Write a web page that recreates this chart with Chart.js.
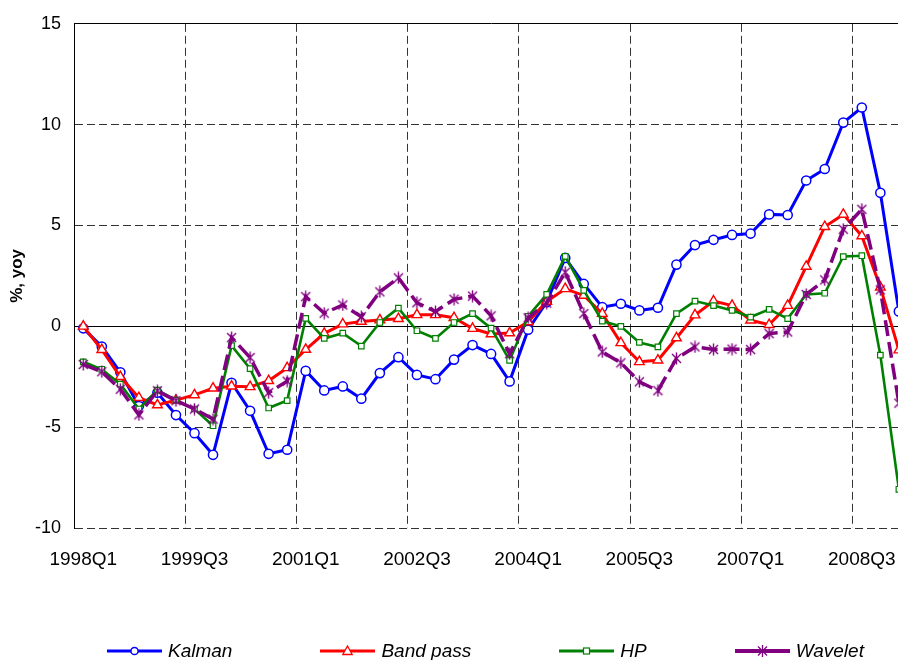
<!DOCTYPE html>
<html>
<head>
<meta charset="utf-8">
<script src="https://cdn.jsdelivr.net/npm/chart.js@4/dist/chart.umd.min.js"></script>
<style>
  html, body { margin:0; padding:0; background:#fff; width:898px; height:660px; overflow:hidden; }
  #wrap { position:absolute; left:0; top:0; width:919px; height:660px; }
  #legend { position:absolute; left:107px; top:640px; display:flex; align-items:center; gap:88px;
            font: italic 19px "Liberation Sans", Arial, sans-serif; line-height:22px; white-space:nowrap; color:#000; }
  .item { display:flex; align-items:center; }
  .item svg { margin-right:6px; display:block; }
</style>
</head>
<body>
<div id="wrap"><canvas id="c" width="919" height="660"></canvas></div>
<div id="legend">
  <div class="item"><svg width="55" height="14"><line x1="0" y1="7" x2="55" y2="7" stroke="#0000ff" stroke-width="3"/><circle cx="27.5" cy="7" r="3.6" fill="#fff" stroke="#0000ff" stroke-width="1.5"/></svg><span>Kalman</span></div>
  <div class="item"><svg width="55" height="14"><line x1="0" y1="7" x2="55" y2="7" stroke="#ff0000" stroke-width="3"/><polygon points="27.5,2 22.8,10.5 32.2,10.5" fill="#fff" stroke="#ff0000" stroke-width="1.3"/></svg><span>Band pass</span></div>
  <div class="item"><svg width="55" height="14"><line x1="0" y1="7" x2="55" y2="7" stroke="#008000" stroke-width="3"/><rect x="24.5" y="4" width="6" height="6" fill="#fff" stroke="#008000" stroke-width="1.2"/></svg><span>HP</span></div>
  <div class="item"><svg width="55" height="14"><line x1="0" y1="7" x2="55" y2="7" stroke="#800080" stroke-width="4"/><g stroke="#800080" stroke-width="1.3"><line x1="23" y1="2.5" x2="32" y2="11.5"/><line x1="32" y1="2.5" x2="23" y2="11.5"/><line x1="27.5" y1="1" x2="27.5" y2="13"/></g></svg><span>Wavelet</span></div>
</div>
<script>
const categories = [
  '1998Q1','1998Q2','1998Q3','1998Q4','1999Q1','1999Q2','1999Q3','1999Q4',
  '2000Q1','2000Q2','2000Q3','2000Q4','2001Q1','2001Q2','2001Q3','2001Q4',
  '2002Q1','2002Q2','2002Q3','2002Q4','2003Q1','2003Q2','2003Q3','2003Q4',
  '2004Q1','2004Q2','2004Q3','2004Q4','2005Q1','2005Q2','2005Q3','2005Q4',
  '2006Q1','2006Q2','2006Q3','2006Q4','2007Q1','2007Q2','2007Q3','2007Q4',
  '2008Q1','2008Q2','2008Q3','2008Q4','2009Q1'
];
const kalman = [-0.1, -1.0, -2.28, -3.95, -3.29, -4.4, -5.3, -6.37, -2.8, -4.19, -6.32, -6.12,
  -2.21, -3.18, -2.98, -3.59, -2.32, -1.53, -2.41, -2.62, -1.65, -0.93, -1.37, -2.73, -0.17,
  1.2, 3.39, 2.1, 0.95, 1.12, 0.79, 0.92, 3.06, 4.03,
  4.29, 4.53, 4.6, 5.55, 5.52, 7.23, 7.8, 10.1, 10.85, 6.62, 0.74];
const bandPass = [0.0, -1.16, -2.5, -3.54, -3.9, -3.66, -3.4, -3.07, -2.97, -3.0, -2.7, -2.06,
  -1.15, -0.35, 0.11, 0.24, 0.31, 0.38, 0.57, 0.57, 0.43, -0.11, -0.38, -0.33, 0.22,
  1.23, 1.86, 1.53, 0.63, -0.82, -1.76, -1.68, -0.58, 0.56,
  1.25, 1.03, 0.3, 0.08, 1.03, 2.97, 4.94, 5.55, 4.48, 1.94, -1.18];
const hp = [-1.76, -2.13, -2.87, -4.1, -3.16, -3.66, -4.1, -4.93, -0.96, -2.1, -4.05, -3.68,
  0.39, -0.6, -0.34, -0.98, 0.19, 0.9, -0.22, -0.6, 0.19, 0.63, -0.09, -1.69, 0.5,
  1.58, 3.47, 1.78, 0.26, 0.0, -0.8, -1.02, 0.63, 1.25,
  1.03, 0.79, 0.46, 0.84, 0.38, 1.58, 1.64, 3.46, 3.5, -1.43, -8.08];
const wavelet = [-1.89, -2.25, -3.12, -4.39, -3.2, -3.69, -4.1, -4.6, -0.56, -1.55, -3.29, -2.72,
  1.47, 0.65, 1.06, 0.48, 1.71, 2.4, 1.17, 0.73, 1.34, 1.5, 0.52, -1.36, 0.42,
  1.15, 2.68, 0.63, -1.27, -1.81, -2.75, -3.19, -1.59, -1.02,
  -1.15, -1.13, -1.15, -0.36, -0.28, 1.58, 2.3, 4.81, 5.8, 1.81, -3.81];
const yTicks = { min: -10, max: 15, step: 5 };
const labelEvery = 6;

const FONT = '"Liberation Sans", Arial, sans-serif';
const BLUE = '#0000ff', RED = '#ff0000', GREEN = '#008000', PURPLE = '#800080';

const starImg = (() => {
  const c = document.createElement('canvas');
  c.width = 13; c.height = 13;
  const g = c.getContext('2d');
  g.strokeStyle = PURPLE; g.lineWidth = 1.4;
  g.beginPath();
  g.moveTo(2, 2); g.lineTo(11, 11);
  g.moveTo(11, 2); g.lineTo(2, 11);
  g.moveTo(6.5, 0.5); g.lineTo(6.5, 12.5);
  g.stroke();
  return c;
})();

Chart.defaults.font.family = FONT;
Chart.defaults.color = '#000';

new Chart(document.getElementById('c'), {
  type: 'line',
  data: {
    labels: categories,
    datasets: [
      { label: 'Kalman', data: kalman, borderColor: BLUE, borderWidth: 3, tension: 0,
        pointStyle: 'circle', pointRadius: 4.6, pointBorderWidth: 1.5,
        pointBackgroundColor: '#fff', pointBorderColor: BLUE, order: 4 },
      { label: 'Band pass', data: bandPass, borderColor: RED, borderWidth: 3, tension: 0,
        pointStyle: 'triangle', pointRadius: 5.6, pointBorderWidth: 1.4,
        pointBackgroundColor: '#fff', pointBorderColor: RED, order: 3 },
      { label: 'HP', data: hp, borderColor: GREEN, borderWidth: 2.6, tension: 0,
        pointStyle: 'rect', pointRadius: 3.9, pointBorderWidth: 1.2,
        pointBackgroundColor: '#fff', pointBorderColor: GREEN, order: 2 },
      { label: 'Wavelet', data: wavelet, borderColor: PURPLE, borderWidth: 3.5, tension: 0,
        borderDash: [16, 6], pointStyle: starImg, pointRadius: 6,
        pointBackgroundColor: PURPLE, pointBorderColor: PURPLE, order: 1 }
    ]
  },
  options: {
    responsive: false,
    animation: false,
    events: [],
    layout: { padding: { top: 21, bottom: 90, left: 0, right: 0 } },
    plugins: { legend: { display: false }, tooltip: { enabled: false } },
    scales: {
      x: {
        type: 'category',
        offset: true,
        grid: {
          offset: true, drawTicks: false, lineWidth: 1,
          color: c => (c.index > 0 && c.index % labelEvery === 0) ? '#333' : 'rgba(0,0,0,0)'
        },
        border: { display: false, dash: [8, 4] },
        ticks: {
          autoSkip: false, maxRotation: 0, minRotation: 0, padding: 20, color: '#000',
          font: { size: 19, family: FONT },
          callback: (v, i) => (i % labelEvery === 0 ? categories[i] : '')
        },
        afterFit: s => { s.height = 42; }
      },
      y: {
        min: yTicks.min, max: yTicks.max,
        ticks: { stepSize: yTicks.step, padding: 13, color: '#000', font: { size: 18, family: FONT } },
        grid: {
          drawTicks: false, lineWidth: 1,
          color: c => (c.tick && (c.tick.value === 0 || c.tick.value === yTicks.max)) ? '#000' : '#333'
        },
        border: {
          display: true, color: '#000', width: 1,
          dash: c => (c.tick && (c.tick.value === 0 || c.tick.value === yTicks.max)) ? [] : [8, 4]
        },
        title: { display: true, text: '%, yoy', color: '#000',
                 font: { size: 17, weight: 'bold', family: FONT }, padding: { top: 7, bottom: 0 } },
        afterFit: s => { s.width = 74; }
      }
    }
  }
});
</script>
</body>
</html>
